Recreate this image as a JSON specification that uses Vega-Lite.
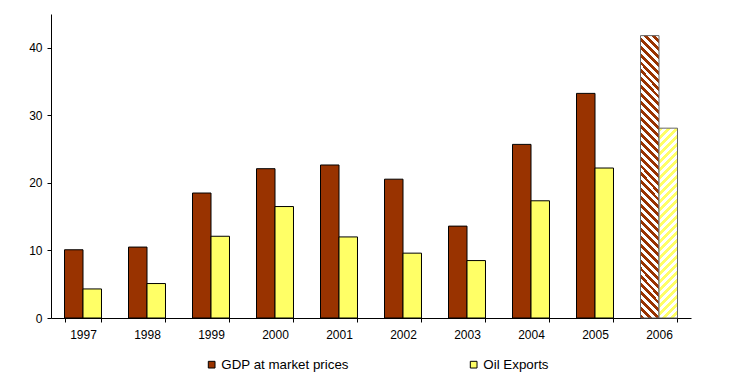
{
  "$schema": "https://vega.github.io/schema/vega-lite/v6.json",
  "autosize": "none",
  "width": 640,
  "height": 304,
  "padding": {"left": 51, "top": 14, "right": 39, "bottom": 62},
  "background": "white",
  "config": {"font": "Liberation Sans", "view": {"stroke": null}},
  "data": {"values": [
    {"Year": "1997", "Series": "GDP at market prices", "Value": 10.1},
    {"Year": "1997", "Series": "Oil Exports", "Value": 4.3},
    {"Year": "1998", "Series": "GDP at market prices", "Value": 10.5},
    {"Year": "1998", "Series": "Oil Exports", "Value": 5.1},
    {"Year": "1999", "Series": "GDP at market prices", "Value": 18.5},
    {"Year": "1999", "Series": "Oil Exports", "Value": 12.1},
    {"Year": "2000", "Series": "GDP at market prices", "Value": 22.1},
    {"Year": "2000", "Series": "Oil Exports", "Value": 16.5},
    {"Year": "2001", "Series": "GDP at market prices", "Value": 22.65},
    {"Year": "2001", "Series": "Oil Exports", "Value": 12.0},
    {"Year": "2002", "Series": "GDP at market prices", "Value": 20.55},
    {"Year": "2002", "Series": "Oil Exports", "Value": 9.6},
    {"Year": "2003", "Series": "GDP at market prices", "Value": 13.6},
    {"Year": "2003", "Series": "Oil Exports", "Value": 8.5},
    {"Year": "2004", "Series": "GDP at market prices", "Value": 25.7},
    {"Year": "2004", "Series": "Oil Exports", "Value": 17.35},
    {"Year": "2005", "Series": "GDP at market prices", "Value": 33.25},
    {"Year": "2005", "Series": "Oil Exports", "Value": 22.2},
    {"Year": "2006", "Series": "GDP at market prices", "Value": 41.8},
    {"Year": "2006", "Series": "Oil Exports", "Value": 28.1}
  ]},
  "encoding": {
    "x": {"field": "Year", "type": "nominal", "title": null,
      "scale": {"paddingInner": 0.422, "paddingOuter": 0.211},
      "axis": {"labelAngle": 0, "tickBand": "extent", "tickSize": 4, "tickColor": "black", "domainColor": "black", "labelPadding": 7, "labelFontSize": 12, "labelColor": "black"}},
    "xOffset": {"field": "Series", "type": "nominal", "sort": ["GDP at market prices", "Oil Exports"], "scale": {"paddingInner": 0, "paddingOuter": 0}},
    "y": {"field": "Value", "type": "quantitative", "title": null,
      "scale": {"domain": [0, 45], "nice": false},
      "axis": {"values": [0, 10, 20, 30, 40], "grid": false, "tickSize": 4, "tickColor": "black", "domainColor": "black", "labelPadding": 5, "labelFontSize": 12, "labelColor": "black"}}
  },
  "layer": [
    {
      "transform": [{"filter": "datum.Year != '2006'"}],
      "mark": {"type": "bar", "stroke": "black", "strokeWidth": 1},
      "encoding": {
        "fill": {"field": "Series", "type": "nominal", "sort": ["GDP at market prices", "Oil Exports"],
          "scale": {"domain": ["GDP at market prices", "Oil Exports"], "range": ["#993300", "#FFFF66"]},
          "legend": {"title": null, "orient": "none", "direction": "horizontal", "legendX": 154, "legendY": 344, "padding": 0,
            "symbolType": "square", "symbolSize": 45, "symbolStrokeColor": "black", "symbolStrokeWidth": 1,
            "labelFontSize": 13.33, "labelColor": "black", "labelOffset": 3, "columnPadding": 118}}
      }
    },
    {
      "transform": [{"filter": "datum.Year == '2006' && datum.Series == 'GDP at market prices'"}],
      "mark": {"type": "bar", "stroke": "#666666", "strokeWidth": 1,
        "fill": {"gradient": "linear", "x1": 0, "y1": 1, "x2": 0.0702, "y2": -0.0615, "stops": [
          {"offset": 0, "color": "#930"},
          {"offset": 0.0132, "color": "#930"}, {"offset": 0.0132, "color": "#fff"},
          {"offset": 0.0263, "color": "#fff"}, {"offset": 0.0263, "color": "#930"},
          {"offset": 0.0395, "color": "#930"}, {"offset": 0.0395, "color": "#fff"},
          {"offset": 0.0526, "color": "#fff"}, {"offset": 0.0526, "color": "#930"},
          {"offset": 0.0658, "color": "#930"}, {"offset": 0.0658, "color": "#fff"},
          {"offset": 0.0789, "color": "#fff"}, {"offset": 0.0789, "color": "#930"},
          {"offset": 0.0921, "color": "#930"}, {"offset": 0.0921, "color": "#fff"},
          {"offset": 0.1053, "color": "#fff"}, {"offset": 0.1053, "color": "#930"},
          {"offset": 0.1184, "color": "#930"}, {"offset": 0.1184, "color": "#fff"},
          {"offset": 0.1316, "color": "#fff"}, {"offset": 0.1316, "color": "#930"},
          {"offset": 0.1447, "color": "#930"}, {"offset": 0.1447, "color": "#fff"},
          {"offset": 0.1579, "color": "#fff"}, {"offset": 0.1579, "color": "#930"},
          {"offset": 0.1711, "color": "#930"}, {"offset": 0.1711, "color": "#fff"},
          {"offset": 0.1842, "color": "#fff"}, {"offset": 0.1842, "color": "#930"},
          {"offset": 0.1974, "color": "#930"}, {"offset": 0.1974, "color": "#fff"},
          {"offset": 0.2105, "color": "#fff"}, {"offset": 0.2105, "color": "#930"},
          {"offset": 0.2237, "color": "#930"}, {"offset": 0.2237, "color": "#fff"},
          {"offset": 0.2368, "color": "#fff"}, {"offset": 0.2368, "color": "#930"},
          {"offset": 0.25, "color": "#930"}, {"offset": 0.25, "color": "#fff"},
          {"offset": 0.2632, "color": "#fff"}, {"offset": 0.2632, "color": "#930"},
          {"offset": 0.2763, "color": "#930"}, {"offset": 0.2763, "color": "#fff"},
          {"offset": 0.2895, "color": "#fff"}, {"offset": 0.2895, "color": "#930"},
          {"offset": 0.3026, "color": "#930"}, {"offset": 0.3026, "color": "#fff"},
          {"offset": 0.3158, "color": "#fff"}, {"offset": 0.3158, "color": "#930"},
          {"offset": 0.3289, "color": "#930"}, {"offset": 0.3289, "color": "#fff"},
          {"offset": 0.3421, "color": "#fff"}, {"offset": 0.3421, "color": "#930"},
          {"offset": 0.3553, "color": "#930"}, {"offset": 0.3553, "color": "#fff"},
          {"offset": 0.3684, "color": "#fff"}, {"offset": 0.3684, "color": "#930"},
          {"offset": 0.3816, "color": "#930"}, {"offset": 0.3816, "color": "#fff"},
          {"offset": 0.3947, "color": "#fff"}, {"offset": 0.3947, "color": "#930"},
          {"offset": 0.4079, "color": "#930"}, {"offset": 0.4079, "color": "#fff"},
          {"offset": 0.4211, "color": "#fff"}, {"offset": 0.4211, "color": "#930"},
          {"offset": 0.4342, "color": "#930"}, {"offset": 0.4342, "color": "#fff"},
          {"offset": 0.4474, "color": "#fff"}, {"offset": 0.4474, "color": "#930"},
          {"offset": 0.4605, "color": "#930"}, {"offset": 0.4605, "color": "#fff"},
          {"offset": 0.4737, "color": "#fff"}, {"offset": 0.4737, "color": "#930"},
          {"offset": 0.4868, "color": "#930"}, {"offset": 0.4868, "color": "#fff"},
          {"offset": 0.5, "color": "#fff"}, {"offset": 0.5, "color": "#930"},
          {"offset": 0.5132, "color": "#930"}, {"offset": 0.5132, "color": "#fff"},
          {"offset": 0.5263, "color": "#fff"}, {"offset": 0.5263, "color": "#930"},
          {"offset": 0.5395, "color": "#930"}, {"offset": 0.5395, "color": "#fff"},
          {"offset": 0.5526, "color": "#fff"}, {"offset": 0.5526, "color": "#930"},
          {"offset": 0.5658, "color": "#930"}, {"offset": 0.5658, "color": "#fff"},
          {"offset": 0.5789, "color": "#fff"}, {"offset": 0.5789, "color": "#930"},
          {"offset": 0.5921, "color": "#930"}, {"offset": 0.5921, "color": "#fff"},
          {"offset": 0.6053, "color": "#fff"}, {"offset": 0.6053, "color": "#930"},
          {"offset": 0.6184, "color": "#930"}, {"offset": 0.6184, "color": "#fff"},
          {"offset": 0.6316, "color": "#fff"}, {"offset": 0.6316, "color": "#930"},
          {"offset": 0.6447, "color": "#930"}, {"offset": 0.6447, "color": "#fff"},
          {"offset": 0.6579, "color": "#fff"}, {"offset": 0.6579, "color": "#930"},
          {"offset": 0.6711, "color": "#930"}, {"offset": 0.6711, "color": "#fff"},
          {"offset": 0.6842, "color": "#fff"}, {"offset": 0.6842, "color": "#930"},
          {"offset": 0.6974, "color": "#930"}, {"offset": 0.6974, "color": "#fff"},
          {"offset": 0.7105, "color": "#fff"}, {"offset": 0.7105, "color": "#930"},
          {"offset": 0.7237, "color": "#930"}, {"offset": 0.7237, "color": "#fff"},
          {"offset": 0.7368, "color": "#fff"}, {"offset": 0.7368, "color": "#930"},
          {"offset": 0.75, "color": "#930"}, {"offset": 0.75, "color": "#fff"},
          {"offset": 0.7632, "color": "#fff"}, {"offset": 0.7632, "color": "#930"},
          {"offset": 0.7763, "color": "#930"}, {"offset": 0.7763, "color": "#fff"},
          {"offset": 0.7895, "color": "#fff"}, {"offset": 0.7895, "color": "#930"},
          {"offset": 0.8026, "color": "#930"}, {"offset": 0.8026, "color": "#fff"},
          {"offset": 0.8158, "color": "#fff"}, {"offset": 0.8158, "color": "#930"},
          {"offset": 0.8289, "color": "#930"}, {"offset": 0.8289, "color": "#fff"},
          {"offset": 0.8421, "color": "#fff"}, {"offset": 0.8421, "color": "#930"},
          {"offset": 0.8553, "color": "#930"}, {"offset": 0.8553, "color": "#fff"},
          {"offset": 0.8684, "color": "#fff"}, {"offset": 0.8684, "color": "#930"},
          {"offset": 0.8816, "color": "#930"}, {"offset": 0.8816, "color": "#fff"},
          {"offset": 0.8947, "color": "#fff"}, {"offset": 0.8947, "color": "#930"},
          {"offset": 0.9079, "color": "#930"}, {"offset": 0.9079, "color": "#fff"},
          {"offset": 0.9211, "color": "#fff"}, {"offset": 0.9211, "color": "#930"},
          {"offset": 0.9342, "color": "#930"}, {"offset": 0.9342, "color": "#fff"},
          {"offset": 0.9474, "color": "#fff"}, {"offset": 0.9474, "color": "#930"},
          {"offset": 0.9605, "color": "#930"}, {"offset": 0.9605, "color": "#fff"},
          {"offset": 0.9737, "color": "#fff"}, {"offset": 0.9737, "color": "#930"},
          {"offset": 0.9868, "color": "#930"}, {"offset": 0.9868, "color": "#fff"},
          {"offset": 1, "color": "#fff"}
        ]}}
    },
    {
      "transform": [{"filter": "datum.Year == '2006' && datum.Series == 'Oil Exports'"}],
      "mark": {"type": "bar", "stroke": "#666666", "strokeWidth": 1,
        "fill": {"gradient": "linear", "x1": 0, "y1": 0, "x2": 0.1071, "y2": 1.0879, "stops": [
          {"offset": 0, "color": "#ff6"},
          {"offset": 0.0192, "color": "#ff6"}, {"offset": 0.0192, "color": "#fff"},
          {"offset": 0.0385, "color": "#fff"}, {"offset": 0.0385, "color": "#ff6"},
          {"offset": 0.0577, "color": "#ff6"}, {"offset": 0.0577, "color": "#fff"},
          {"offset": 0.0769, "color": "#fff"}, {"offset": 0.0769, "color": "#ff6"},
          {"offset": 0.0962, "color": "#ff6"}, {"offset": 0.0962, "color": "#fff"},
          {"offset": 0.1154, "color": "#fff"}, {"offset": 0.1154, "color": "#ff6"},
          {"offset": 0.1346, "color": "#ff6"}, {"offset": 0.1346, "color": "#fff"},
          {"offset": 0.1538, "color": "#fff"}, {"offset": 0.1538, "color": "#ff6"},
          {"offset": 0.1731, "color": "#ff6"}, {"offset": 0.1731, "color": "#fff"},
          {"offset": 0.1923, "color": "#fff"}, {"offset": 0.1923, "color": "#ff6"},
          {"offset": 0.2115, "color": "#ff6"}, {"offset": 0.2115, "color": "#fff"},
          {"offset": 0.2308, "color": "#fff"}, {"offset": 0.2308, "color": "#ff6"},
          {"offset": 0.25, "color": "#ff6"}, {"offset": 0.25, "color": "#fff"},
          {"offset": 0.2692, "color": "#fff"}, {"offset": 0.2692, "color": "#ff6"},
          {"offset": 0.2885, "color": "#ff6"}, {"offset": 0.2885, "color": "#fff"},
          {"offset": 0.3077, "color": "#fff"}, {"offset": 0.3077, "color": "#ff6"},
          {"offset": 0.3269, "color": "#ff6"}, {"offset": 0.3269, "color": "#fff"},
          {"offset": 0.3462, "color": "#fff"}, {"offset": 0.3462, "color": "#ff6"},
          {"offset": 0.3654, "color": "#ff6"}, {"offset": 0.3654, "color": "#fff"},
          {"offset": 0.3846, "color": "#fff"}, {"offset": 0.3846, "color": "#ff6"},
          {"offset": 0.4038, "color": "#ff6"}, {"offset": 0.4038, "color": "#fff"},
          {"offset": 0.4231, "color": "#fff"}, {"offset": 0.4231, "color": "#ff6"},
          {"offset": 0.4423, "color": "#ff6"}, {"offset": 0.4423, "color": "#fff"},
          {"offset": 0.4615, "color": "#fff"}, {"offset": 0.4615, "color": "#ff6"},
          {"offset": 0.4808, "color": "#ff6"}, {"offset": 0.4808, "color": "#fff"},
          {"offset": 0.5, "color": "#fff"}, {"offset": 0.5, "color": "#ff6"},
          {"offset": 0.5192, "color": "#ff6"}, {"offset": 0.5192, "color": "#fff"},
          {"offset": 0.5385, "color": "#fff"}, {"offset": 0.5385, "color": "#ff6"},
          {"offset": 0.5577, "color": "#ff6"}, {"offset": 0.5577, "color": "#fff"},
          {"offset": 0.5769, "color": "#fff"}, {"offset": 0.5769, "color": "#ff6"},
          {"offset": 0.5962, "color": "#ff6"}, {"offset": 0.5962, "color": "#fff"},
          {"offset": 0.6154, "color": "#fff"}, {"offset": 0.6154, "color": "#ff6"},
          {"offset": 0.6346, "color": "#ff6"}, {"offset": 0.6346, "color": "#fff"},
          {"offset": 0.6538, "color": "#fff"}, {"offset": 0.6538, "color": "#ff6"},
          {"offset": 0.6731, "color": "#ff6"}, {"offset": 0.6731, "color": "#fff"},
          {"offset": 0.6923, "color": "#fff"}, {"offset": 0.6923, "color": "#ff6"},
          {"offset": 0.7115, "color": "#ff6"}, {"offset": 0.7115, "color": "#fff"},
          {"offset": 0.7308, "color": "#fff"}, {"offset": 0.7308, "color": "#ff6"},
          {"offset": 0.75, "color": "#ff6"}, {"offset": 0.75, "color": "#fff"},
          {"offset": 0.7692, "color": "#fff"}, {"offset": 0.7692, "color": "#ff6"},
          {"offset": 0.7885, "color": "#ff6"}, {"offset": 0.7885, "color": "#fff"},
          {"offset": 0.8077, "color": "#fff"}, {"offset": 0.8077, "color": "#ff6"},
          {"offset": 0.8269, "color": "#ff6"}, {"offset": 0.8269, "color": "#fff"},
          {"offset": 0.8462, "color": "#fff"}, {"offset": 0.8462, "color": "#ff6"},
          {"offset": 0.8654, "color": "#ff6"}, {"offset": 0.8654, "color": "#fff"},
          {"offset": 0.8846, "color": "#fff"}, {"offset": 0.8846, "color": "#ff6"},
          {"offset": 0.9038, "color": "#ff6"}, {"offset": 0.9038, "color": "#fff"},
          {"offset": 0.9231, "color": "#fff"}, {"offset": 0.9231, "color": "#ff6"},
          {"offset": 0.9423, "color": "#ff6"}, {"offset": 0.9423, "color": "#fff"},
          {"offset": 0.9615, "color": "#fff"}, {"offset": 0.9615, "color": "#ff6"},
          {"offset": 0.9808, "color": "#ff6"}, {"offset": 0.9808, "color": "#fff"},
          {"offset": 1, "color": "#fff"}
        ]}}
    }
  ]
}
